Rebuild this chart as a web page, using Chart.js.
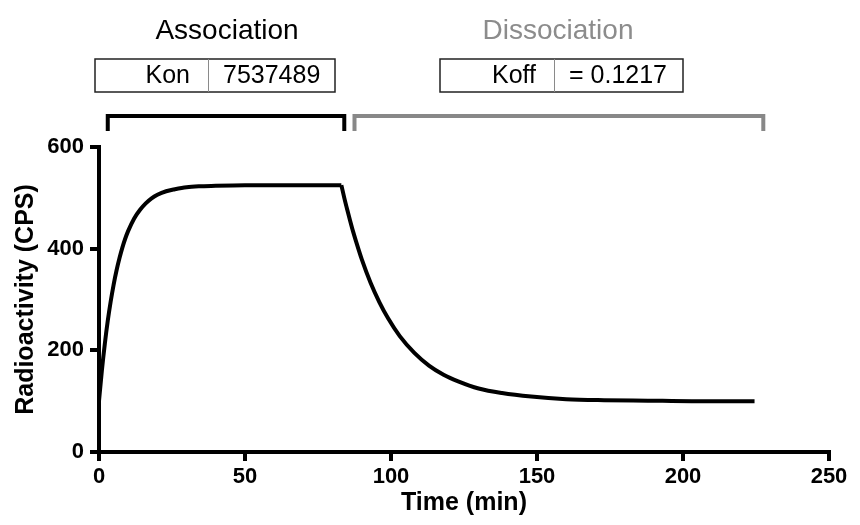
<!DOCTYPE html>
<html>
<head>
<meta charset="utf-8">
<script src="https://cdn.jsdelivr.net/npm/chart.js@4/dist/chart.umd.min.js"></script>
<style>
  html, body { margin: 0; padding: 0; background: #fff; }
  #wrap { width: 860px; height: 525px; position: relative; }
</style>
</head>
<body>
<div id="wrap"><canvas id="c" width="860" height="525"></canvas></div>
<script>
// ---- data ----
const assocTime = [0, 1, 2, 3, 4, 5, 6, 7, 8, 9, 10, 12, 14, 16, 18, 20, 23, 26, 30, 35, 40, 50, 83];
const assocCPS  = [100, 161, 213, 258, 296, 329, 357, 381, 402, 420, 435, 459, 476, 489, 499, 506, 513, 517, 521, 523, 524, 525, 525];
const dissocTime = [83, 84, 85, 86, 87, 88, 90, 93, 96, 99, 103, 108, 113, 118, 123, 130, 138, 148, 160, 173, 188, 203, 224.5];
const dissocCPS  = [525, 500, 477, 455, 434, 415, 379, 333, 295, 263, 228, 195, 170, 152, 139, 125, 116, 109, 104, 102, 101, 100, 100];
const xTicks = [0, 50, 100, 150, 200, 250];
const yTicks = [0, 200, 400, 600];
const phaseNames = ["Association", "Dissociation"];
const phaseStart = [3, 87.5];
const phaseEnd = [84, 227.5];
const paramNames = ["Kon", "Koff"];
const paramValues = ["7537489", "= 0.1217"];

const toXY = (xs, ys) => xs.map((x, i) => ({x: x, y: ys[i]}));

const FONT = "'Liberation Sans', Arial, Helvetica, sans-serif";
const GREY = '#8c8c8c';

const annotPlugin = {
  id: 'annot',
  afterDraw(chart) {
    const ctx = chart.ctx;
    const xs = chart.scales.x;
    const phaseColors = ['#000', GREY];
    const titleCenters = [227, 558];
    const boxes = [
      {l: 95, r: 335, d: 208},
      {l: 440, r: 683, d: 554}
    ];
    ctx.save();
    for (let i = 0; i < 2; i++) {
      // phase title
      ctx.fillStyle = phaseColors[i];
      ctx.font = '28px ' + FONT;
      ctx.textAlign = 'center';
      ctx.textBaseline = 'middle';
      ctx.fillText(phaseNames[i], titleCenters[i], 31);
      // parameter box
      const b = boxes[i];
      ctx.fillStyle = '#fff';
      ctx.fillRect(b.l, 59, b.r - b.l, 33);
      ctx.strokeStyle = '#222';
      ctx.lineWidth = 1.5;
      ctx.strokeRect(b.l, 59, b.r - b.l, 33);
      ctx.strokeStyle = '#8a8a8a';
      ctx.lineWidth = 1;
      ctx.beginPath();
      ctx.moveTo(b.d + 0.5, 59);
      ctx.lineTo(b.d + 0.5, 92);
      ctx.stroke();
      ctx.fillStyle = '#000';
      ctx.font = '25px ' + FONT;
      ctx.textAlign = 'right';
      ctx.fillText(paramNames[i], b.d - 18, 76);
      ctx.textAlign = 'left';
      ctx.fillText(paramValues[i], b.d + 15, 76);
      // bracket
      const x1 = xs.getPixelForValue(phaseStart[i]);
      const x2 = xs.getPixelForValue(phaseEnd[i]);
      ctx.strokeStyle = i === 0 ? '#000' : '#888';
      ctx.lineWidth = 4;
      ctx.lineJoin = 'miter';
      ctx.lineCap = 'butt';
      ctx.beginPath();
      ctx.moveTo(x1, 131);
      ctx.lineTo(x1, 116);
      ctx.lineTo(x2, 116);
      ctx.lineTo(x2, 131);
      ctx.stroke();
    }
    ctx.restore();
  }
};

const tickFont = {family: FONT, size: 22, weight: 'bold'};
const titleFont = {family: FONT, size: 25, weight: 'bold'};

new Chart(document.getElementById('c'), {
  type: 'scatter',
  data: {
    datasets: [
      {data: toXY(assocTime, assocCPS), showLine: true, borderColor: '#000', borderWidth: 4, pointRadius: 0, cubicInterpolationMode: 'monotone', fill: false},
      {data: toXY(dissocTime, dissocCPS), showLine: true, borderColor: '#000', borderWidth: 4, pointRadius: 0, cubicInterpolationMode: 'monotone', fill: false}
    ]
  },
  options: {
    responsive: false,
    animation: false,
    devicePixelRatio: 1,
    layout: {padding: {left: 0, top: 147, right: 31, bottom: 0}},
    plugins: {legend: {display: false}, tooltip: {enabled: false}},
    scales: {
      x: {
        type: 'linear', min: 0, max: 250,
        afterBuildTicks: (s) => { s.ticks = xTicks.map(v => ({value: v})); },
        afterFit: (s) => { s.height = 73; },
        ticks: {font: tickFont, color: '#000', padding: 3, maxRotation: 0},
        grid: {display: true, drawOnChartArea: false, drawTicks: true, tickLength: 9, lineWidth: 4, color: '#000'},
        border: {display: true, width: 4, color: '#000'},
        title: {display: true, text: 'Time (min)', font: titleFont, color: '#000', padding: {top: 0, bottom: 7}}
      },
      y: {
        type: 'linear', min: 0, max: 600,
        afterBuildTicks: (s) => { s.ticks = yTicks.map(v => ({value: v})); },
        afterFit: (s) => { s.width = 99; },
        ticks: {font: tickFont, color: '#000', padding: 6},
        grid: {display: true, drawOnChartArea: false, drawTicks: true, tickLength: 9, lineWidth: 4, color: '#000'},
        border: {display: true, width: 4, color: '#000'},
        title: {display: true, text: 'Radioactivity (CPS)', font: titleFont, color: '#000', padding: {top: 11, bottom: 0}}
      }
    }
  },
  plugins: [annotPlugin]
});
</script>
</body>
</html>
